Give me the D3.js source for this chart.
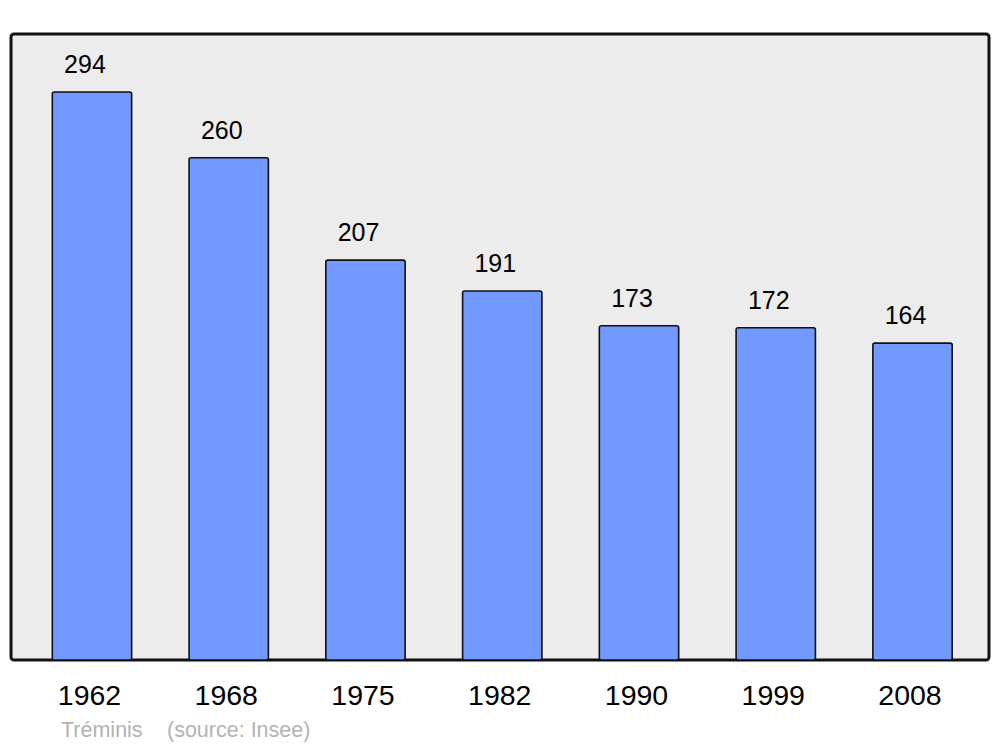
<!DOCTYPE html>
<html>
<head>
<meta charset="utf-8">
<script src="https://cdn.jsdelivr.net/npm/d3@7"></script>
<style>
  body { margin: 0; background: #fff; }
  text { font-family: "Liberation Sans", Arial, sans-serif; }
</style>
</head>
<body>
<div class="chart"></div>
<script>
// data
var years = ["1962", "1968", "1975", "1982", "1990", "1999", "2008"];
var population = [294, 260, 207, 191, 173, 172, 164];
var sourceLabel = ["Tréminis", "(source: Insee)"];

var width = 1000, height = 747;
var baseline = 660;

var svg = d3.select(".chart").append("svg")
    .attr("width", width)
    .attr("height", height);

// background panel
svg.append("rect")
    .attr("x", 11)
    .attr("y", 34)
    .attr("width", 978)
    .attr("height", 626)
    .attr("rx", 3)
    .attr("fill", "#ececec")
    .attr("stroke", "#111")
    .attr("stroke-width", 3);

// set the ranges
var x = d3.scaleBand()
    .domain(years)
    .range([23.6, 980.9])
    .paddingInner(0.42)
    .paddingOuter(0.21);

var y = d3.scaleLinear()
    .domain([0, 294])
    .range([baseline, 92]);

var data = years.map(function (d, i) {
    return { year: d, value: population[i] };
});

svg.selectAll(".bar")
    .data(data)
    .enter().append("rect")
    .attr("class", "bar")
    .attr("x", function (d) { return x(d.year); })
    .attr("y", function (d) { return y(d.value); })
    .attr("width", x.bandwidth())
    .attr("height", function (d) { return baseline - y(d.value); })
    .attr("rx", 2)
    .attr("fill", "#7299ff")
    .attr("stroke", "#111")
    .attr("stroke-width", 1.6);

// value labels
svg.selectAll(".val")
    .data(data)
    .enter().append("text")
    .attr("class", "val")
    .attr("x", function (d) { return x(d.year) + x.bandwidth() / 2 - 7; })
    .attr("y", function (d) { return y(d.value) - 19; })
    .attr("text-anchor", "middle")
    .attr("font-size", 25)
    .attr("fill", "#000")
    .text(function (d) { return d.value; });

// x axis labels
var xAxis = svg.append("g")
    .attr("class", "xAxis")
    .attr("transform", "translate(0," + baseline + ")")
    .call(d3.axisBottom(x).tickSize(0).tickPadding(0));
xAxis.select(".domain").remove();
xAxis.selectAll("text")
    .attr("dy", null)
    .attr("y", 45)
    .attr("x", -2.5)
    .attr("font-size", 28.5)
    .attr("font-family", "Liberation Sans, Arial, sans-serif")
    .attr("fill", "#000");

// source line
svg.append("text")
    .attr("x", 61)
    .attr("y", 737)
    .attr("font-size", 21.5)
    .attr("fill", "#b3b3b3")
    .text(sourceLabel[0]);
svg.append("text")
    .attr("x", 167)
    .attr("y", 737)
    .attr("font-size", 21.5)
    .attr("fill", "#b3b3b3")
    .text(sourceLabel[1]);
</script>
</body>
</html>
